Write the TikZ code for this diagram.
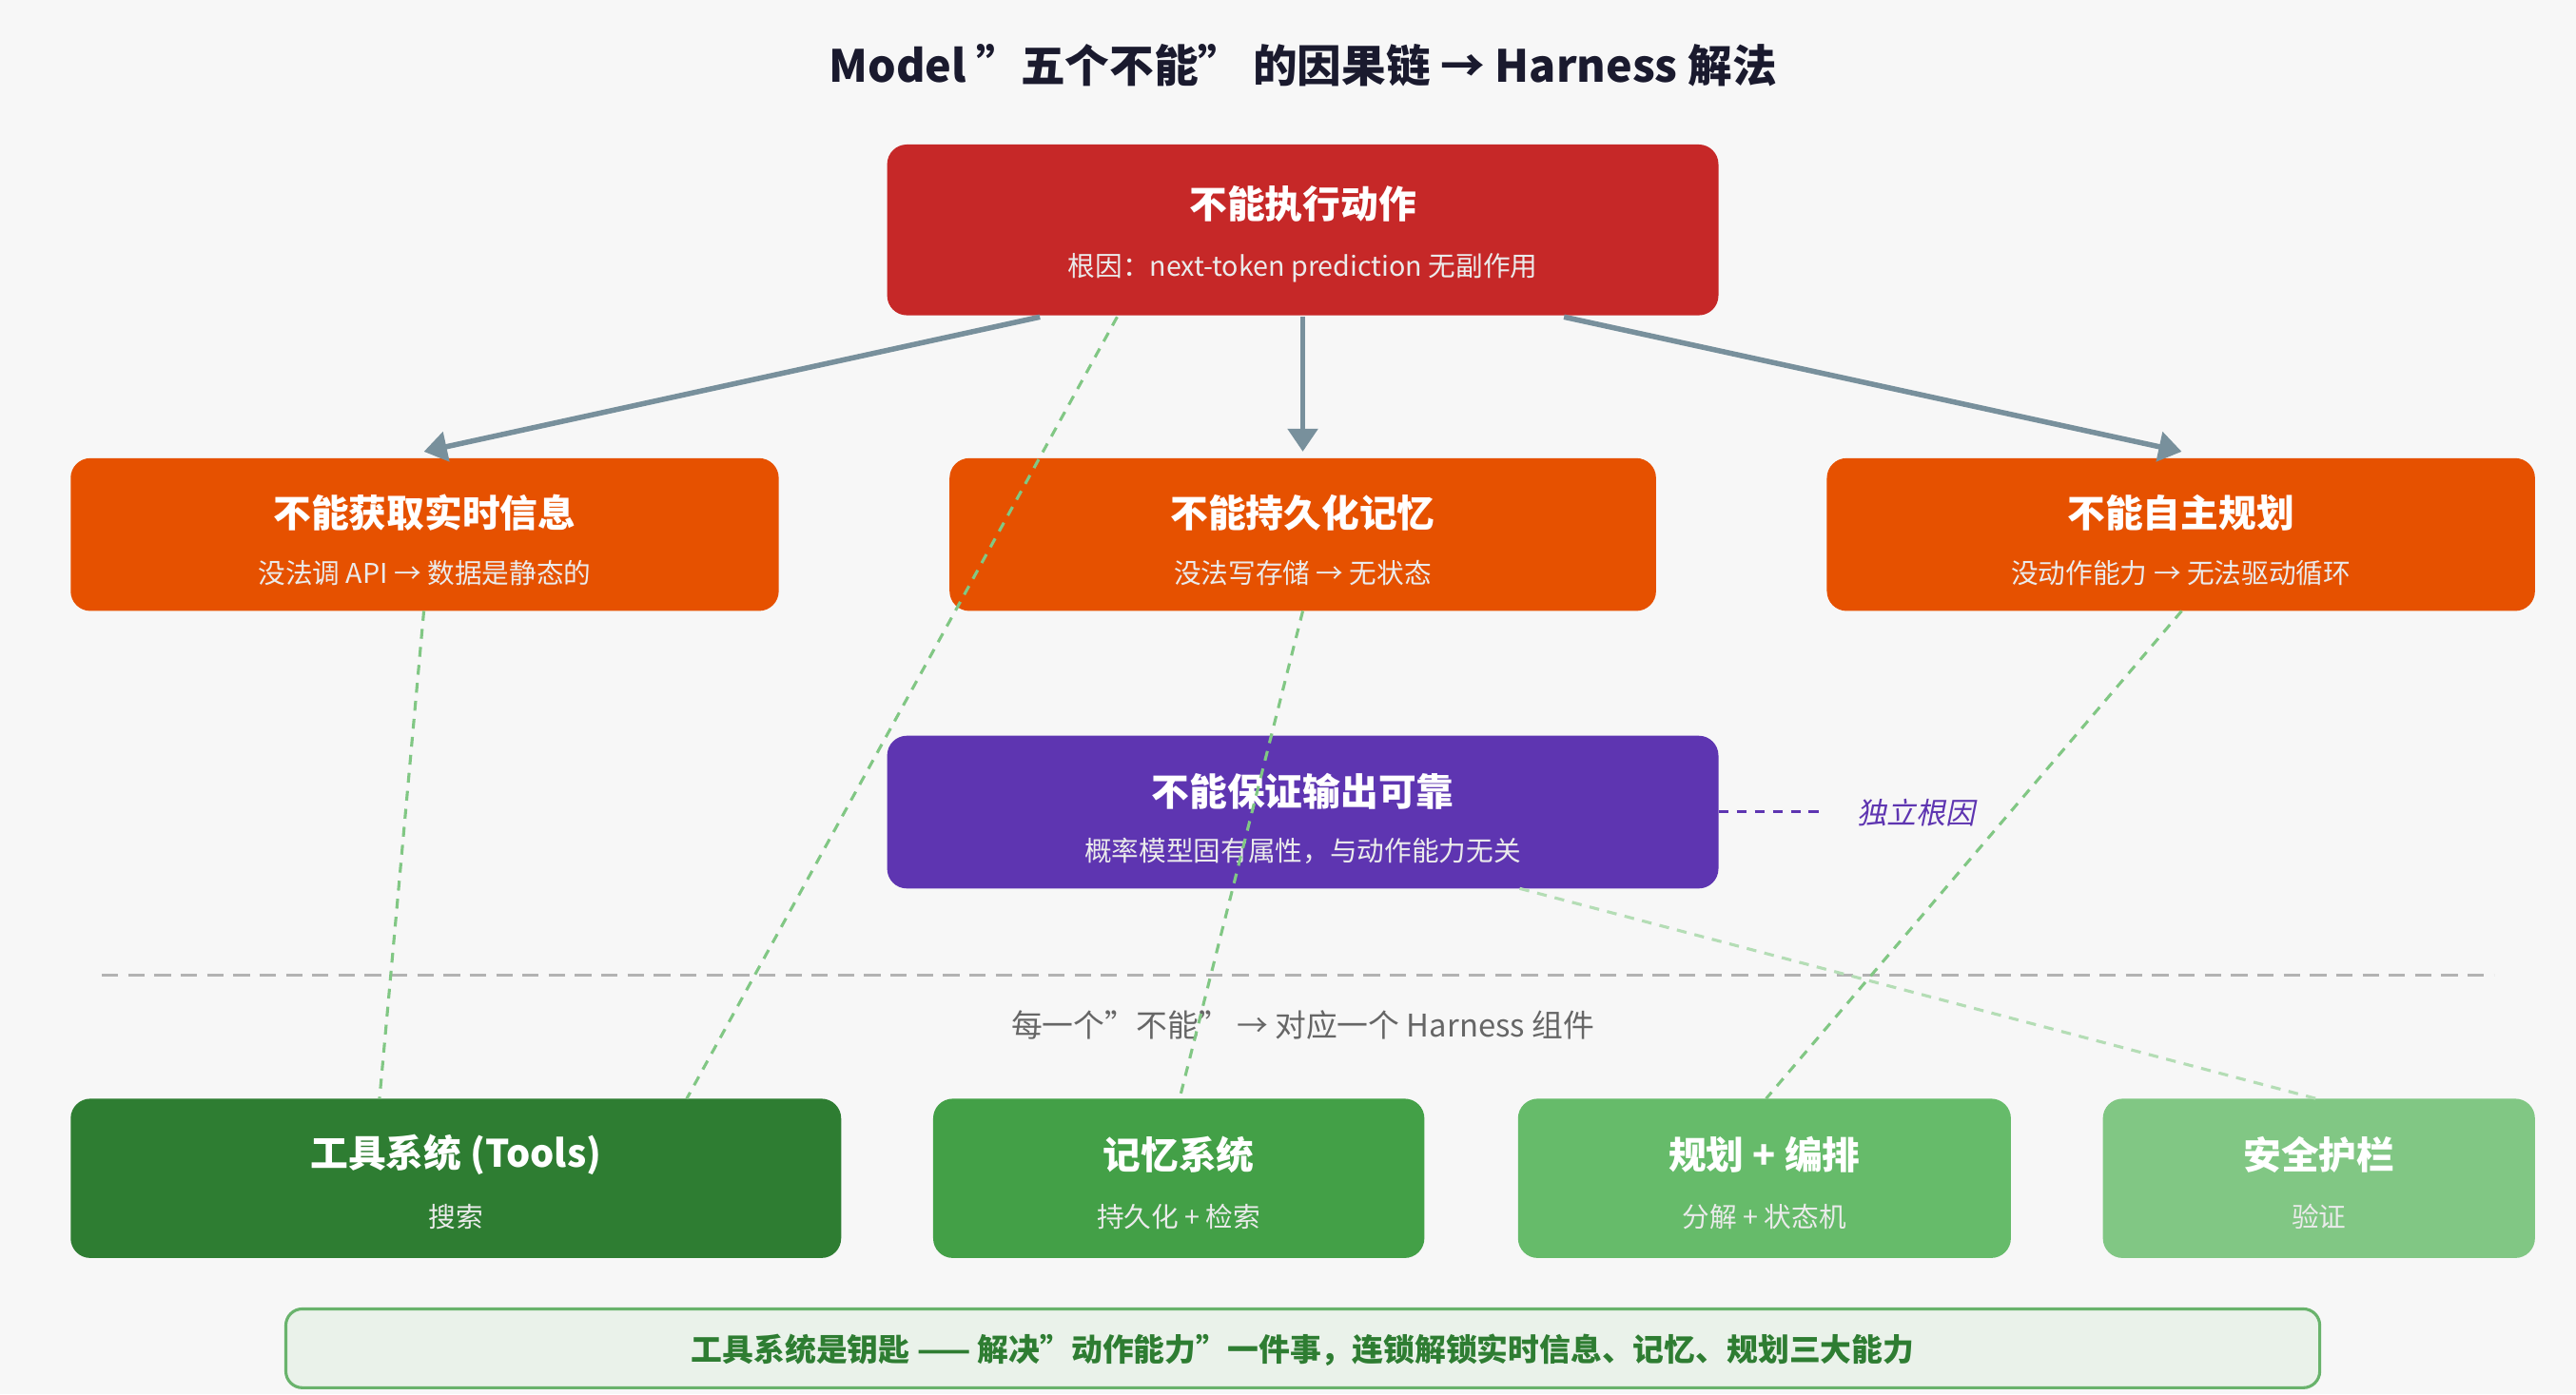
\documentclass[tikz,border=0pt]{standalone}
\usepackage{fontspec}
\setmainfont{Noto Sans CJK SC}
\usetikzlibrary{arrows.meta}
\definecolor{cred}{HTML}{C62828}
\definecolor{corg}{HTML}{E65100}
\definecolor{cpur}{HTML}{5E35B1}
\definecolor{cg1}{HTML}{2E7D32}
\definecolor{cg2}{HTML}{43A047}
\definecolor{cg3}{HTML}{66BB6A}
\definecolor{cg4}{HTML}{81C784}
\definecolor{carr}{HTML}{78909C}
\definecolor{cnavy}{HTML}{1A1A2E}
\begin{document}
\begin{tikzpicture}[x=0.5pt,y=-0.5pt,
 box/.style={rounded corners=6pt,inner sep=0},
 ttl/.style={text=white,font=\bfseries\fontsize{11.5}{13}\selectfont},
 sub/.style={text=white!92!black,font=\fontsize{8.3}{10}\selectfont},
 arr/.style={carr,line width=1.6pt,-{Triangle[length=7pt,width=9pt]}},
 gd/.style={cg4,line width=0.9pt,dash pattern=on 3pt off 2.5pt}]
\fill[white!97!black] (0,0) rectangle (1568,849);
\useasboundingbox (0,0) rectangle (1568,849);
\node[text=cnavy,font=\bfseries\fontsize{13.5}{15}\selectfont] (title) at (793,40) {Model "五个不能" 的因果链 → Harness 解法};
% boxes
\fill[cred,box] (540,88) rectangle (1046,192);
\node[ttl] (t0) at (793,124) {不能执行动作};
\node[sub] (s0) at (793,163) {根因：next-token prediction 无副作用};
\foreach \n/\a/\b/\t/\s in {A/43/474/不能获取实时信息/没法调 API → 数据是静态的, B/578/1008/不能持久化记忆/没法写存储 → 无状态, C/1112/1543/不能自主规划/没动作能力 → 无法驱动循环}{
 \fill[corg,box] (\a,279) rectangle (\b,372);
 \node[ttl] (t\n) at ({(\a+\b)/2},312) {\t};
 \node[sub] (s\n) at ({(\a+\b)/2},349) {\s};}
\fill[cpur,box] (540,448) rectangle (1046,541);
\node[ttl] (tP) at (793,482) {不能保证输出可靠};
\node[sub] (sP) at (793,518) {概率模型固有属性，与动作能力无关};
\foreach \n/\a/\b/\c/\t/\s in {T/43/512/cg1/工具系统 (Tools)/搜索 / 执行 / 读写 / 验证, M/568/867/cg2/记忆系统/持久化 + 检索, L/924/1224/cg3/规划 + 编排/分解 + 状态机, S/1280/1543/cg4/安全护栏/验证 / 重试}{
 \fill[\c,box] (\a,669) rectangle (\b,766);
 \node[ttl] (t\n) at ({(\a+\b)/2},703) {\t};
 \node[sub] (s\n) at ({(\a+\b)/2},741) {\s};}
% separator
\draw[black!30,line width=0.9pt,dash pattern=on 5pt off 3pt] (62,594) -- (1518,594);
\node[text=black!60,font=\fontsize{9.5}{11}\selectfont] (mid) at (793,624) {每一个"不能" → 对应一个 Harness 组件};
% connector coordinates
\coordinate (r1) at (633,193); \coordinate (r2) at (793,193); \coordinate (r3) at (952,193); \coordinate (r4) at (680,193);
\coordinate (aT) at (258,275); \coordinate (bT) at (793,275); \coordinate (cT) at (1328,275);
\coordinate (aB) at (258,372); \coordinate (bB) at (793,372); \coordinate (cB) at (1328,372);
\coordinate (pB) at (925,541); \coordinate (pR) at (1046,494); \coordinate (pE) at (1110,494);
\coordinate (tT1) at (418,669); \coordinate (tT2) at (231,669); \coordinate (mT) at (718,669); \coordinate (lT) at (1075,669); \coordinate (sT) at (1410,669);
\draw[gd] (r4) -- (tT1);
\draw[gd] (aB) -- (tT2);
\draw[gd] (bB) -- (mT);
\draw[gd] (cB) -- (lT);
\draw[gd,cg4!60] (pB) -- (sT);
\draw[arr] (r1) -- (aT);
\draw[arr] (r2) -- (bT);
\draw[arr] (r3) -- (cT);
\draw[cpur,line width=0.9pt,dash pattern=on 3pt off 2.5pt] (pR) -- (pE);
\node[text=cpur,font=\itshape\fontsize{9}{10}\selectfont,xslant=0.2] (ind) at (1168,495) {独立根因};
% bottom
\draw[cg2!80,fill=cg1!10,rounded corners=5pt,line width=0.9pt] (174,797) rectangle (1412,845);
\node[text=cg1,font=\bfseries\fontsize{9.5}{11}\selectfont] (bot) at (793,822) {工具系统是钥匙 —— 解决"动作能力"一件事，连锁解锁实时信息、记忆、规划三大能力};
\end{tikzpicture}
\end{document}
